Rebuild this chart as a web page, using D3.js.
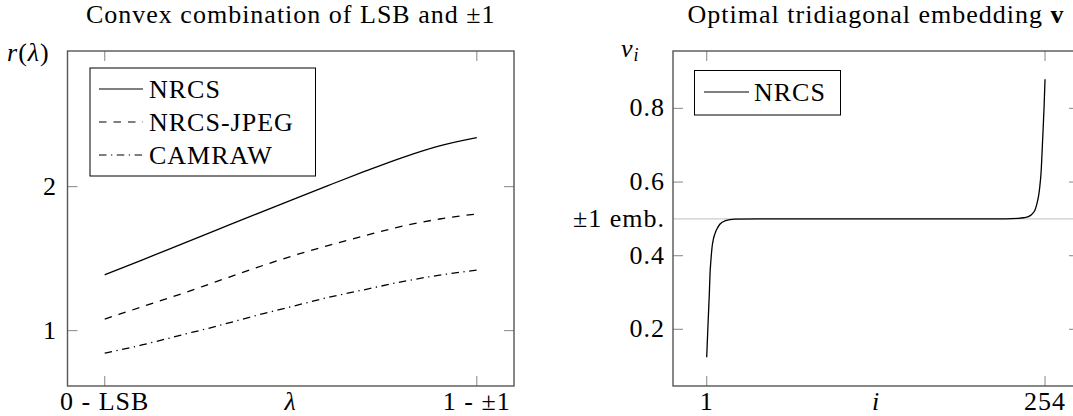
<!DOCTYPE html>
<html>
<head>
<meta charset="utf-8">
<script src="https://cdn.jsdelivr.net/npm/d3@7"></script>
<style>
  html, body { margin: 0; padding: 0; background: #fff; }
  svg { display: block; }
  text { font-family: "Liberation Serif", "Times New Roman", serif; fill: #000; letter-spacing: 1px; }
</style>
</head>
<body>
<svg id="chart" width="1073" height="416"></svg>
<script>
// ---- Left panel: convex combination of LSB and ±1 ----
const lambdaVals = [0, 0.1, 0.2, 0.3, 0.4, 0.5, 0.6, 0.7, 0.8, 0.9, 1.0];
const nrcs       = [1.387, 1.49, 1.594, 1.698, 1.802, 1.905, 2.007, 2.107, 2.202, 2.283, 2.34];
const nrcsJpeg   = [1.08, 1.165, 1.25, 1.34, 1.43, 1.515, 1.59, 1.66, 1.725, 1.775, 1.81];
const camraw     = [0.843, 0.90, 0.965, 1.03, 1.10, 1.165, 1.23, 1.285, 1.34, 1.385, 1.42];
const leftXTicks = [0, 1];
const leftXTickLabels = ["0 - LSB", "1 - \u00B11"];
const leftYTicks = [1, 2];
const leftSeriesNames = ["NRCS", "NRCS-JPEG", "CAMRAW"];

// ---- Right panel: optimal tridiagonal embedding ----
const vIndex = [1, 2, 3, 3.5, 4, 5, 6, 7, 8, 9, 11, 15, 22, 40, 127, 215, 234, 238, 241.5, 244, 246.5, 248, 249.5, 250, 251, 252.2, 253.3, 254];
const vValue = [0.124, 0.215, 0.30, 0.352, 0.38, 0.423, 0.445, 0.458, 0.468, 0.475, 0.486, 0.495, 0.4995, 0.5, 0.5, 0.5, 0.5016, 0.503, 0.506, 0.512, 0.524, 0.542, 0.570, 0.585, 0.624, 0.714, 0.805, 0.879];
const rightXTicks = [1, 254];
const rightYTicks = [0.2, 0.4, 0.6, 0.8];
const embLevel = 0.5;
const embLabel = "\u00B11 emb.";

const svg = d3.select("#chart");
const FONT = 26;
const frameColor = "#555";
const tickColor = "#999";
const tickLen = 10;
const labelBaseline = 410;

function frame(g, x, y) {
  const [x0, x1] = x.range();
  const [y0, y1] = y.range();
  g.append("rect")
    .attr("x", x0).attr("y", y1)
    .attr("width", x1 - x0).attr("height", y0 - y1)
    .attr("fill", "none").attr("stroke", frameColor).attr("stroke-width", 1.4);
}

function ticks(g, x, y, xt, yt) {
  const [x0, x1] = x.range();
  const [y0, y1] = y.range();
  xt.forEach(t => {
    g.append("line").attr("x1", x(t)).attr("x2", x(t)).attr("y1", y0).attr("y2", y0 - tickLen)
      .attr("stroke", tickColor).attr("stroke-width", 1.2);
    g.append("line").attr("x1", x(t)).attr("x2", x(t)).attr("y1", y1).attr("y2", y1 + tickLen)
      .attr("stroke", tickColor).attr("stroke-width", 1.2);
  });
  yt.forEach(t => {
    g.append("line").attr("x1", x0).attr("x2", x0 + tickLen).attr("y1", y(t)).attr("y2", y(t))
      .attr("stroke", tickColor).attr("stroke-width", 1.2);
    g.append("line").attr("x1", x1).attr("x2", x1 - tickLen).attr("y1", y(t)).attr("y2", y(t))
      .attr("stroke", tickColor).attr("stroke-width", 1.2);
  });
}

// ================= Left panel =================
{
  const x = d3.scaleLinear().domain([-0.1, 1.1]).range([67.5, 514]);
  const y = d3.scaleLinear().domain([0.615, 2.942]).range([386, 51]);
  const g = svg.append("g");

  ticks(g, x, y, leftXTicks, leftYTicks);

  const series = [
    { name: leftSeriesNames[0], values: nrcs, dash: null },
    { name: leftSeriesNames[1], values: nrcsJpeg, dash: "7.5,7" },
    { name: leftSeriesNames[2], values: camraw, dash: "7.5,4.5,1.3,4.5" }
  ];
  const line = d3.line()
    .x(d => x(d[0])).y(d => y(d[1]))
    .curve(d3.curveMonotoneX);
  series.forEach(s => {
    g.append("path")
      .datum(lambdaVals.map((l, i) => [l, s.values[i]]))
      .attr("d", line)
      .attr("fill", "none").attr("stroke", "#000").attr("stroke-width", 1.3)
      .attr("stroke-dasharray", s.dash);
  });

  frame(g, x, y);

  // tick labels
  leftXTicks.forEach((t, i) => {
    g.append("text").attr("x", x(t)).attr("y", labelBaseline).attr("text-anchor", "middle")
      .style("font-size", FONT + "px").text(leftXTickLabels[i]);
  });
  leftYTicks.forEach(t => {
    g.append("text").attr("x", 57).attr("y", y(t) + 8).attr("text-anchor", "end")
      .style("font-size", FONT + "px").text(d3.format("d")(t));
  });

  // axis labels
  g.append("text").attr("x", (x.range()[0] + x.range()[1]) / 2).attr("y", labelBaseline)
    .attr("text-anchor", "middle").style("font-size", FONT + "px").style("font-style", "italic")
    .text("\u03BB");
  const yl = g.append("text").attr("x", 7).attr("y", 61).style("font-size", FONT + "px");
  yl.append("tspan").style("font-style", "italic").text("r");
  yl.append("tspan").text("(");
  yl.append("tspan").style("font-style", "italic").text("\u03BB");
  yl.append("tspan").text(")");

  // title
  g.append("text").attr("x", (x.range()[0] + x.range()[1]) / 2).attr("y", 23)
    .attr("text-anchor", "middle").style("font-size", FONT + "px")
    .text("Convex combination of LSB and \u00B11");

  // legend
  const lg = g.append("g");
  lg.append("rect").attr("x", 90).attr("y", 68).attr("width", 225.5).attr("height", 108)
    .attr("fill", "#fff").attr("stroke", "#000").attr("stroke-width", 1);
  series.forEach((s, i) => {
    const cy = 89 + i * 33;
    lg.append("line").attr("x1", 99).attr("x2", 143).attr("y1", cy).attr("y2", cy)
      .attr("stroke", "#000").attr("stroke-width", 1.1).attr("stroke-dasharray", s.dash);
    lg.append("text").attr("x", 149).attr("y", cy + 9).style("font-size", FONT + "px").text(s.name);
  });
}

// ================= Right panel =================
{
  const x = d3.scaleLinear().domain([-24.2, 279.4]).range([673, 1079]);
  const y = d3.scaleLinear().domain([0.046, 0.956]).range([386, 51]);
  const g = svg.append("g");

  ticks(g, x, y, rightXTicks, rightYTicks);

  // reference level of ±1 embedding
  g.append("line")
    .attr("x1", x.range()[0]).attr("x2", x.range()[1])
    .attr("y1", y(embLevel)).attr("y2", y(embLevel))
    .attr("stroke", "#ccc").attr("stroke-width", 1.4);

  const line = d3.line()
    .x(d => x(d[0])).y(d => y(d[1]))
    .curve(d3.curveMonotoneX);
  g.append("path")
    .datum(vIndex.map((v, i) => [v, vValue[i]]))
    .attr("d", line)
    .attr("fill", "none").attr("stroke", "#000").attr("stroke-width", 1.3);

  frame(g, x, y);

  rightXTicks.forEach(t => {
    g.append("text").attr("x", x(t)).attr("y", labelBaseline).attr("text-anchor", "middle")
      .style("font-size", FONT + "px").text(t);
  });
  rightYTicks.forEach(t => {
    g.append("text").attr("x", 665).attr("y", y(t) + 8).attr("text-anchor", "end")
      .style("font-size", FONT + "px").text(d3.format(".1f")(t));
  });
  g.append("text").attr("x", 665).attr("y", y(embLevel) + 8).attr("text-anchor", "end")
    .style("font-size", FONT + "px").text(embLabel);

  g.append("text").attr("x", (x.range()[0] + x.range()[1]) / 2).attr("y", labelBaseline)
    .attr("text-anchor", "middle").style("font-size", FONT + "px").style("font-style", "italic")
    .text("i");
  const yl = g.append("text").attr("x", 621).attr("y", 57).style("font-size", FONT + "px");
  yl.append("tspan").style("font-style", "italic").text("v");
  yl.append("tspan").style("font-style", "italic").style("font-size", "18px").attr("dy", 4).text("i");

  const tt = g.append("text").attr("x", (x.range()[0] + x.range()[1]) / 2).attr("y", 23)
    .attr("text-anchor", "middle").style("font-size", FONT + "px");
  tt.append("tspan").text("Optimal tridiagonal embedding ");
  tt.append("tspan").style("font-weight", "bold").text("v");

  const lg = g.append("g");
  lg.append("rect").attr("x", 694.5).attr("y", 70.5).attr("width", 146).attr("height", 44.5)
    .attr("fill", "#fff").attr("stroke", "#000").attr("stroke-width", 1);
  lg.append("line").attr("x1", 704).attr("x2", 749).attr("y1", 92).attr("y2", 92)
    .attr("stroke", "#000").attr("stroke-width", 1.1);
  lg.append("text").attr("x", 754).attr("y", 101).style("font-size", FONT + "px").text("NRCS");
}
</script>
</body>
</html>
